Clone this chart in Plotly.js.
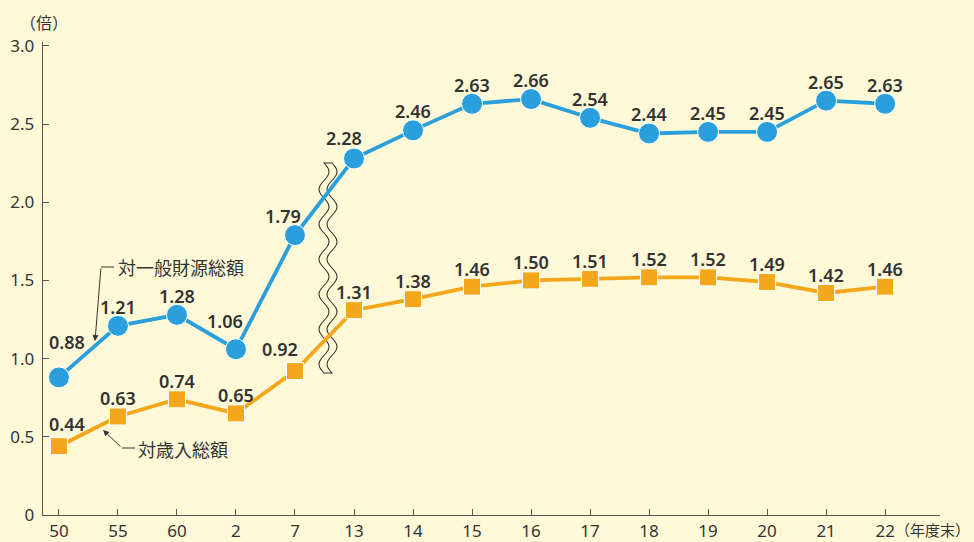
<!DOCTYPE html>
<html>
<head>
<meta charset="utf-8">
<script src="https://cdn.plot.ly/plotly-3.0.1.min.js"></script>
<style>html,body{margin:0;padding:0;background:#FFF9D8;}#chart{width:974px;height:542px;}</style>
</head>
<body>
<div id="chart"></div>
<script>
// ---- data ----
const years = ['50','55','60','2','7','13','14','15','16','17','18','19','20','21','22'];
const generalRevenue = [0.88,1.21,1.28,1.06,1.79,2.28,2.46,2.63,2.66,2.54,2.44,2.45,2.45,2.65,2.63];
const totalRevenue   = [0.44,0.63,0.74,0.65,0.92,1.31,1.38,1.46,1.50,1.51,1.52,1.52,1.49,1.42,1.46];
const yTickVals = [0,0.5,1.0,1.5,2.0,2.5,3.0];
const yTickText = ['0','0.5','1.0','1.5','2.0','2.5','3.0'];
const seriesNames = ['対一般財源総額','対歳入総額'];

// ---- style ----
const BG = '#FFF9D8';
const BLUE = '#2A9FDC';
const ORANGE = '#F5A71B';
const INK = '#333333';
const FONT = 'Noto Sans, Noto Sans CJK JP, sans-serif';
const JFONT = 'Noto Sans CJK JP, Noto Sans, sans-serif';

const W = 974, H = 542, ML = 43, MR = 34, MT = 42, MB = 27;
const PW = W - ML - MR, PH = H - MT - MB;
const px = x => (x - ML) / PW;
const py = y => (H - MB - y) / PH;

const traces = [
  {
    x: years, y: generalRevenue, type: 'scatter', mode: 'lines+markers', name: seriesNames[0],
    line: {color: BLUE, width: 3.8},
    marker: {symbol: 'circle', size: 21, color: BLUE, line: {color: '#ffffff', width: 1}},
    hoverinfo: 'x+y', cliponaxis: false
  },
  {
    x: years, y: totalRevenue, type: 'scatter', mode: 'lines+markers', name: seriesNames[1],
    line: {color: ORANGE, width: 3.8},
    marker: {symbol: 'square', size: 17, color: ORANGE, line: {color: '#ffffff', width: 1}},
    hoverinfo: 'x+y', cliponaxis: false
  }
];

// value labels (x given as category index)
const blueShift = {0: [8, 35], 3: [-11, 28], 4: [-12, 19], 5: [-10, 20]};
const orangeShift = {0: [8, 22], 4: [-15, 22]};
const annotations = [];
function addLabels(vals, shifts, defY) {
  vals.forEach((v, i) => {
    const s = shifts[i] || [0, defY];
    annotations.push({
      x: i, y: v, xref: 'x', yref: 'y', text: v.toFixed(2), showarrow: false,
      xshift: s[0], yshift: s[1], yanchor: 'middle', xanchor: 'center',
      font: {family: FONT, size: 18, color: INK, weight: 600}
    });
  });
}
addLabels(generalRevenue, blueShift, 19);
addLabels(totalRevenue, orangeShift, 18);

// series name callouts
annotations.push({
  xref: 'paper', yref: 'paper', x: px(116), y: py(267), xanchor: 'left', yanchor: 'middle',
  text: seriesNames[0], showarrow: false, font: {family: JFONT, size: 18, color: INK}
});
annotations.push({
  xref: 'paper', yref: 'paper', x: px(95), y: py(341), text: '', showarrow: true,
  ax: 6, ay: -74, arrowhead: 2, arrowsize: 1.2, arrowwidth: 1, arrowcolor: INK
});
annotations.push({
  xref: 'paper', yref: 'paper', x: px(136), y: py(449), xanchor: 'left', yanchor: 'middle',
  text: seriesNames[1], showarrow: false, font: {family: JFONT, size: 18, color: INK}
});
annotations.push({
  xref: 'paper', yref: 'paper', x: px(103), y: py(430), text: '', showarrow: true,
  ax: 19, ay: 18, arrowhead: 2, arrowsize: 1.2, arrowwidth: 1, arrowcolor: INK
});
// unit labels
annotations.push({
  xref: 'paper', yref: 'paper', x: px(44), y: py(22), xanchor: 'center', yanchor: 'middle',
  text: '（倍）', showarrow: false, font: {family: JFONT, size: 16, color: INK}
});
annotations.push({
  xref: 'paper', yref: 'paper', x: px(972), y: py(529), xanchor: 'right', yanchor: 'middle',
  text: '（年度末）', showarrow: false, font: {family: JFONT, size: 15, color: INK}
});

// wavy break symbol
function wavePath() {
  const top = 163, bot = 373, P = 35, A = 5, cL = 324, cR = 332;
  let d = '';
  for (let y = top; y <= bot; y += 2) {
    const x = cL + A * Math.sin(2 * Math.PI * (y - top) / P);
    d += (y === top ? 'M' : 'L') + px(x).toFixed(5) + ',' + py(y).toFixed(5);
  }
  for (let y = bot; y >= top; y -= 2) {
    const x = cR + A * Math.sin(2 * Math.PI * (y - top) / P);
    d += 'L' + px(x).toFixed(5) + ',' + py(y).toFixed(5);
  }
  return d + 'Z';
}
const shapes = [
  {type: 'path', xref: 'paper', yref: 'paper', path: wavePath(), fillcolor: BG,
   line: {color: INK, width: 1.1}, layer: 'below'},
  {type: 'line', xref: 'paper', yref: 'paper', x0: px(101), y0: py(267), x1: px(114), y1: py(267),
   line: {color: INK, width: 1}},
  {type: 'line', xref: 'paper', yref: 'paper', x0: px(122), y0: py(448), x1: px(135), y1: py(448),
   line: {color: INK, width: 1}}
];

const layout = {
  width: W, height: H,
  margin: {l: ML, r: MR, t: MT, b: MB, pad: 0},
  paper_bgcolor: BG, plot_bgcolor: BG,
  showlegend: false,
  font: {family: FONT, color: INK},
  xaxis: {
    type: 'category', categoryorder: 'array', categoryarray: years,
    range: [-0.27, 14.93], showgrid: false, zeroline: false,
    showline: true, linecolor: '#555', linewidth: 1.3,
    ticks: 'inside', ticklen: 6, tickcolor: '#555', tickwidth: 1,
    tickfont: {family: FONT, size: 17, color: INK}, fixedrange: true
  },
  yaxis: {
    range: [0, 3.025], tickvals: yTickVals, ticktext: yTickText,
    showgrid: false, zeroline: false,
    showline: true, linecolor: '#555', linewidth: 1.3,
    ticks: 'inside', ticklen: 6, tickcolor: '#555', tickwidth: 1,
    ticklabelstandoff: 4,
    tickfont: {family: FONT, size: 17, color: INK}, fixedrange: true
  },
  annotations: annotations,
  shapes: shapes
};

Plotly.newPlot('chart', traces, layout, {displayModeBar: false, staticPlot: true});
</script>
</body>
</html>
